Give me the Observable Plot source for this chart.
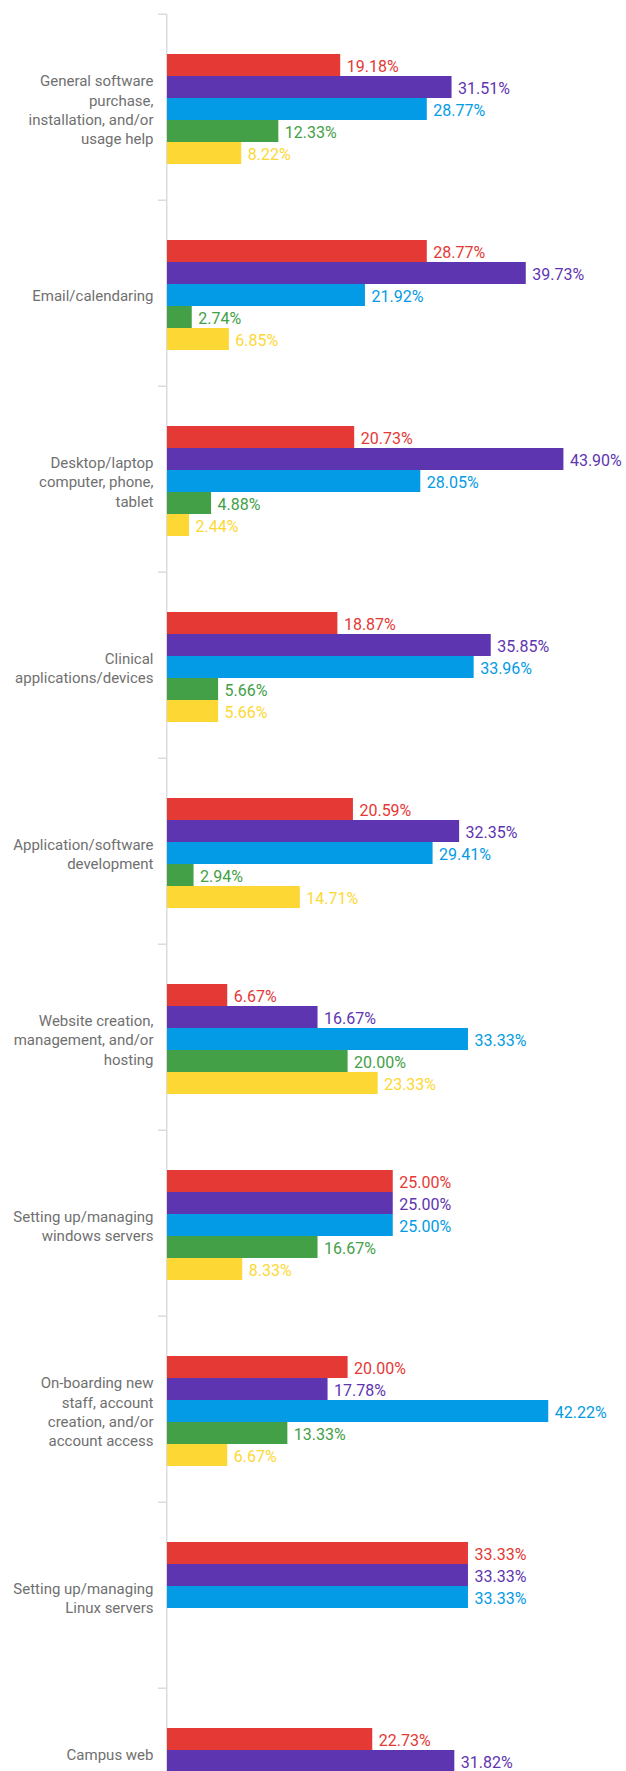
<!DOCTYPE html>
<html><head><meta charset="utf-8">
<script src="https://cdn.jsdelivr.net/npm/d3@7"></script>
<script src="https://cdn.jsdelivr.net/npm/@observablehq/plot@0.6"></script>
<style>
html,body{margin:0;padding:0;background:#fff;}
#chart{width:626px;height:1771px;overflow:hidden;}
#chart svg{display:block;}
</style></head><body><div id="chart"></div>
<script>
// Categories (y facets) and their wrapped display labels
const categories = [
  "General software purchase, installation, and/or usage help",
  "Email/calendaring",
  "Desktop/laptop computer, phone, tablet",
  "Clinical applications/devices",
  "Application/software development",
  "Website creation, management, and/or hosting",
  "Setting up/managing windows servers",
  "On-boarding new staff, account creation, and/or account access",
  "Setting up/managing Linux servers",
  "Campus web"
];
const labels = [
  "General software\npurchase,\ninstallation, and/or\nusage help",
  "Email/calendaring",
  "Desktop/laptop\ncomputer, phone,\ntablet",
  "Clinical\napplications/devices",
  "Application/software\ndevelopment",
  "Website creation,\nmanagement, and/or\nhosting",
  "Setting up/managing\nwindows servers",
  "On-boarding new\nstaff, account\ncreation, and/or\naccount access",
  "Setting up/managing\nLinux servers",
  "Campus web\n\n\n" // rest of this label is cut off in the reference
];
// Series (one bar per series in each category)
const seriesNames = ["Series 1", "Series 2", "Series 3", "Series 4", "Series 5"];
const seriesColors = ["#e53935", "#5e35b1", "#039be5", "#43a047", "#fdd835"];
// Values in percent (null = not visible in the reference)
const series1 = [19.18, 28.77, 20.73, 18.87, 20.59, 6.67, 25.00, 20.00, 33.33, 22.73];
const series2 = [31.51, 39.73, 43.90, 35.85, 32.35, 16.67, 25.00, 17.78, 33.33, 31.82];
const series3 = [28.77, 21.92, 28.05, 33.96, 29.41, 33.33, 25.00, 42.22, 33.33, null];
const series4 = [12.33, 2.74, 4.88, 5.66, 2.94, 20.00, 16.67, 13.33, 0, null];
const series5 = [8.22, 6.85, 2.44, 5.66, 14.71, 23.33, 8.33, 6.67, 0, null];

const allSeries = [series1, series2, series3, series4, series5];
const rows = [];
categories.forEach((c, i) => {
  allSeries.forEach((vals, s) => {
    const v = vals[i];
    if (v != null && v > 0) rows.push({category: c, series: seriesNames[s], value: v});
  });
});

const STEP = 186.6, TOP = 11;
const height = Math.round(TOP + categories.length * STEP);

const chart = Plot.plot({
  width: 626,
  height,
  marginLeft: 167,
  marginRight: 7.5,
  marginTop: TOP,
  marginBottom: 0,
  style: {fontFamily: "Roboto, sans-serif", background: "#fff", overflow: "visible"},
  x: {domain: [0, 50], axis: null},
  y: {domain: seriesNames, paddingInner: 0, paddingOuter: 1.61, align: 0.52, axis: null},
  fy: {domain: categories, padding: 0},
  color: {domain: seriesNames, range: seriesColors},
  marks: [
    Plot.ruleX([0], {stroke: "#dcdcdc", strokeWidth: 1.5, dx: -0.75}),
    Plot.axisFy({anchor: "left", tickSize: 9, tickFormat: () => "", stroke: "#dcdcdc", strokeWidth: 1.5, dy: -STEP / 2, label: null}),
    Plot.barX(rows, {fy: "category", y: "series", x: "value", fill: "series"}),
    Plot.text(rows, {fy: "category", y: "series", x: "value", text: d => d.value.toFixed(2) + "%", fill: "series", textAnchor: "start", dx: 6, dy: 1.5, fontSize: 16}),
    Plot.text(categories, {fy: d => d, text: (d, i) => labels[i], frameAnchor: "left", textAnchor: "end", dx: -14, dy: 1.5, fill: "#707070", fontSize: 15, lineHeight: 1.3})
  ]
});
document.getElementById("chart").appendChild(chart);
</script>
</body></html>
